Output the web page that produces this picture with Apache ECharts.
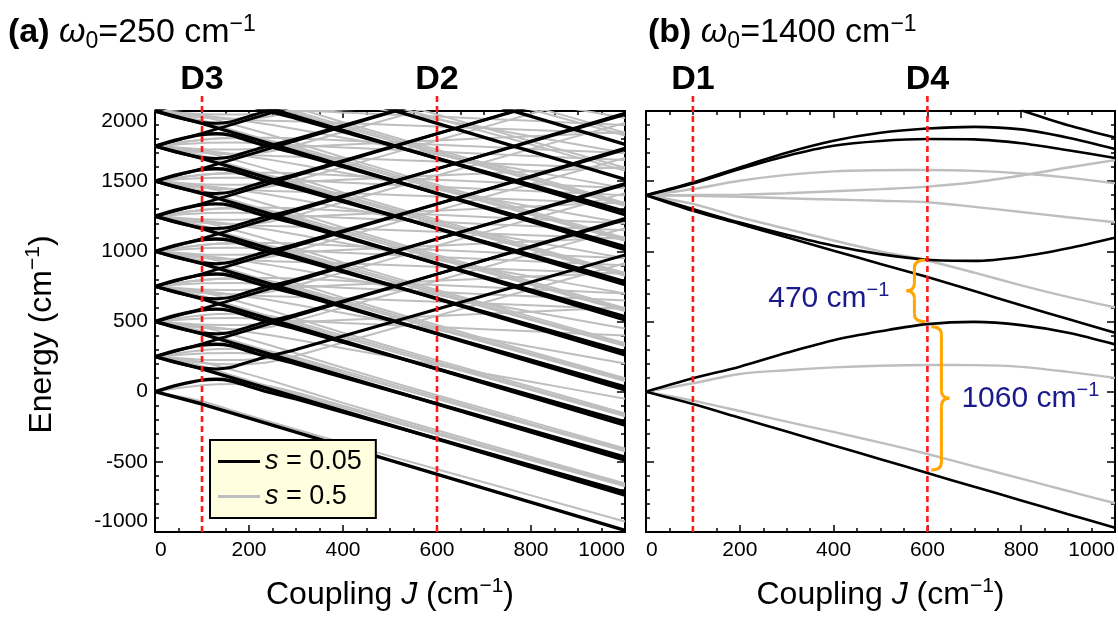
<!DOCTYPE html>
<html>
<head>
<meta charset="utf-8">
<script src="https://cdn.jsdelivr.net/npm/echarts@6/dist/echarts.min.js"></script>
<style>
html, body { margin: 0; padding: 0; background: #fff; }
#main { width: 1118px; height: 617px; }
</style>
</head>
<body>
<div id="main"></div>
<script>
var chart = echarts.init(document.getElementById('main'));

// ---------- panel (a): omega0 = 250 cm-1 ----------
var jStraight = [0, 100, 1000];
var jArc = [0, 50, 100, 130, 160, 200, 230, 300, 1000];
var jGray = [0, 100, 170, 250, 400, 600, 800, 1000];

// s = 0.05 : straight lines leaving each level downwards
var aDown = [
    [0, -88, -988], [250, 162, -738], [500, 412, -488], [750, 662, -238],
    [1000, 912, 12], [1250, 1162, 262], [1500, 1412, 512], [1750, 1662, 762],
    [2000, 1912, 1012], [2250, 2162, 1262], [2500, 2412, 1512], [2750, 2662, 1762]
];
// straight lines leaving upwards
var aUp = [
    [250, 340, 1235], [500, 590, 1485], [750, 840, 1735], [1000, 1090, 1985],
    [1250, 1340, 2235], [1500, 1590, 2485], [1750, 1840, 2735]
];
// upper arc of each lens (bends down after the avoided crossing)
var aArcTop = [
    [0, 48, 82, 88, 78, 38, 8, -52, -716],
    [250, 298, 332, 338, 328, 288, 258, 198, -466],
    [500, 548, 582, 588, 578, 538, 508, 448, -216],
    [750, 798, 832, 838, 828, 788, 758, 698, 34],
    [1000, 1048, 1082, 1088, 1078, 1038, 1008, 948, 284],
    [1250, 1298, 1332, 1338, 1328, 1288, 1258, 1198, 534],
    [1500, 1548, 1582, 1588, 1578, 1538, 1508, 1448, 784],
    [1750, 1798, 1832, 1838, 1828, 1788, 1758, 1698, 1034],
    [2000, 2048, 2082, 2088, 2078, 2038, 2008, 1948, 1284]
];
// lower arc of each lens (bends up)
var aArcBot = [
    [250, 202, 168, 162, 172, 212, 242, 300, 975],
    [500, 452, 418, 412, 422, 462, 492, 550, 1225],
    [750, 702, 668, 662, 672, 712, 742, 800, 1475],
    [1000, 952, 918, 912, 922, 962, 992, 1050, 1725],
    [1250, 1202, 1168, 1162, 1172, 1212, 1242, 1300, 1975],
    [1500, 1452, 1418, 1412, 1422, 1462, 1492, 1550, 2225],
    [1750, 1702, 1668, 1662, 1672, 1712, 1742, 1800, 2475],
    [2000, 1952, 1918, 1912, 1922, 1962, 1992, 2050, 2725]
];

// s = 0.5 (grey), sampled at jGray
var aGrayDown = [
    [0, -68, -140, -220, -365, -553, -739, -925],
    [250, 182, 110, 30, -115, -303, -489, -675],
    [500, 432, 360, 280, 135, -53, -239, -425],
    [750, 682, 610, 530, 385, 197, 11, -175],
    [1000, 932, 860, 780, 635, 447, 261, 75],
    [1250, 1182, 1110, 1030, 885, 697, 511, 325],
    [1500, 1432, 1360, 1280, 1135, 947, 761, 575],
    [1750, 1682, 1610, 1530, 1385, 1197, 1011, 825],
    [2000, 1932, 1860, 1780, 1635, 1447, 1261, 1075],
    [2250, 2182, 2110, 2030, 1885, 1697, 1511, 1325],
    [2500, 2432, 2360, 2280, 2135, 1947, 1761, 1575],
    [2750, 2682, 2610, 2530, 2385, 2197, 2011, 1825]
];
var aGrayDown2 = [
    [250, 210, 150, 75, -80, -275, -465, -655],
    [500, 460, 400, 325, 170, -25, -215, -405],
    [750, 710, 650, 575, 420, 225, 35, -155],
    [1000, 960, 900, 825, 670, 475, 285, 95],
    [1250, 1210, 1150, 1075, 920, 725, 535, 345],
    [1500, 1460, 1400, 1325, 1170, 975, 785, 595],
    [1750, 1710, 1650, 1575, 1420, 1225, 1035, 845],
    [2000, 1960, 1900, 1825, 1670, 1475, 1285, 1095],
    [2250, 2210, 2150, 2075, 1920, 1725, 1535, 1345],
    [2500, 2460, 2400, 2325, 2170, 1975, 1785, 1595],
    [2750, 2710, 2650, 2575, 2420, 2225, 2035, 1845]
];
var aGrayMid = [
    [500, 470, 440, 400, 310, 190, 70, -50],
    [750, 720, 690, 650, 560, 440, 320, 200],
    [1000, 970, 940, 900, 810, 690, 570, 450],
    [1250, 1220, 1190, 1150, 1060, 940, 820, 700],
    [1500, 1470, 1440, 1400, 1310, 1190, 1070, 950],
    [1750, 1720, 1690, 1650, 1560, 1440, 1320, 1200],
    [2000, 1970, 1940, 1900, 1810, 1690, 1570, 1450],
    [2250, 2220, 2190, 2150, 2060, 1940, 1820, 1700],
    [2500, 2470, 2440, 2400, 2310, 2190, 2070, 1950]
];
var aGrayHump = [
    [0, 45, 55, 35, -100, -290, -480, -665],
    [250, 295, 305, 285, 150, -40, -230, -415],
    [500, 545, 555, 535, 400, 210, 20, -165],
    [750, 795, 805, 785, 650, 460, 270, 85],
    [1000, 1045, 1055, 1035, 900, 710, 520, 335],
    [1250, 1295, 1305, 1285, 1150, 960, 770, 585],
    [1500, 1545, 1555, 1535, 1400, 1210, 1020, 835],
    [1750, 1795, 1805, 1785, 1650, 1460, 1270, 1085],
    [2000, 2045, 2055, 2035, 1900, 1710, 1520, 1335]
];
var aGrayRise = [
    [250, 205, 195, 215, 350, 540, 730, 915],
    [500, 455, 445, 465, 600, 790, 980, 1165],
    [750, 705, 695, 715, 850, 1040, 1230, 1415],
    [1000, 955, 945, 965, 1100, 1290, 1480, 1665],
    [1250, 1205, 1195, 1215, 1350, 1540, 1730, 1915],
    [1500, 1455, 1445, 1465, 1600, 1790, 1980, 2165],
    [1750, 1705, 1695, 1715, 1850, 2040, 2230, 2415],
    [2000, 1955, 1945, 1965, 2100, 2290, 2480, 2665]
];
var aGrayFlat = [
    [250, 272, 275, 262],
    [250, 228, 225, 238],
    [500, 522, 525, 515, 490, 460, 430, 400],
    [500, 478, 475, 485, 510, 540, 570, 600],
    [750, 772, 775, 765, 740, 710, 680, 650],
    [750, 728, 725, 735, 760, 790, 820, 850],
    [750, 795, 810, 810, 790, 760, 730, 700],
    [750, 705, 690, 680, 665, 640, 615, 590],
    [1000, 1022, 1025, 1015, 990, 960, 930, 900],
    [1000, 978, 975, 985, 1010, 1040, 1070, 1100],
    [1000, 1045, 1060, 1060, 1040, 1010, 980, 950],
    [1000, 955, 940, 930, 915, 890, 865, 840],
    [1250, 1272, 1275, 1265, 1240, 1210, 1180, 1150],
    [1250, 1228, 1225, 1235, 1260, 1290, 1320, 1350],
    [1250, 1295, 1310, 1310, 1290, 1260, 1230, 1200],
    [1250, 1205, 1190, 1180, 1165, 1140, 1115, 1090],
    [1500, 1522, 1525, 1515, 1490, 1460, 1430, 1400],
    [1500, 1478, 1475, 1485, 1510, 1540, 1570, 1600],
    [1500, 1545, 1560, 1560, 1540, 1510, 1480, 1450],
    [1500, 1455, 1440, 1430, 1415, 1390, 1365, 1340],
    [1750, 1772, 1775, 1765, 1740, 1710, 1680, 1650],
    [1750, 1728, 1725, 1735, 1760, 1790, 1820, 1850],
    [1750, 1795, 1810, 1810, 1790, 1760, 1730, 1700],
    [1750, 1705, 1690, 1680, 1665, 1640, 1615, 1590],
    [2000, 2022, 2025, 2015, 1990, 1960, 1930, 1900],
    [2000, 1978, 1975, 1985, 2010, 2040, 2070, 2100],
    [2000, 1955, 1940, 1930, 1915, 1890, 1865, 1840]
];

// ---------- panel (b): omega0 = 1400 cm-1 ----------
var jB = [0, 100, 200, 300, 400, 500, 600, 700, 800, 900, 1000];
var bBlack = [
    [0, -88, -186, -284, -383, -481, -580, -678, -775, -873, -970],
    [0, 95, 178, 277, 367, 430, 481, 497, 474, 420, 337],
    [1400, 1289, 1195, 1100, 1005, 910, 817, 718, 615, 518, 419],
    [1400, 1301, 1205, 1118, 1040, 980, 940, 932, 962, 1022, 1097],
    [1400, 1490, 1598, 1703, 1788, 1845, 1875, 1887, 1869, 1810, 1729],
    [1400, 1484, 1587, 1680, 1752, 1786, 1800, 1798, 1770, 1720, 1665],
    [null, null, null, null, null, null, null, null, 2005, 1898, 1811]
];
var bGray = [
    [0, 60, 126, 153, 173, 185, 190, 189, 177, 141, 98],
    [0, -64, -138, -214, -287, -363, -444, -532, -620, -708, -795],
    [1400, 1338, 1243, 1160, 1077, 1000, 935, 848, 758, 675, 600],
    [1400, 1395, 1388, 1378, 1369, 1360, 1350, 1317, 1280, 1243, 1207],
    [1400, 1401, 1404, 1414, 1428, 1443, 1461, 1492, 1540, 1597, 1650],
    [1400, 1444, 1503, 1545, 1570, 1578, 1580, 1573, 1555, 1525, 1484]
];

// dashed markers and gap braces
var markersA = [{j: 100, label: 'D3'}, {j: 600, label: 'D2'}];
var markersB = [{j: 100, label: 'D1'}, {j: 600, label: 'D4'}];
var markerTop = 2128;
var braceJ = 600;
var braceSmall = [938, 499];
var braceLarge = [463, -558];

var BLACK = '#000000', GRAY = '#bebebe', RED = '#ff1a1a';
var FONT = 'Liberation Sans';

function pts(js, es) {
    var out = [];
    for (var i = 0; i < es.length; i++) {
        if (es[i] !== null) out.push([js[i], es[i]]);
    }
    return out;
}

var series = [];
function addLine(axis, js, es, name, color, width, smooth) {
    series.push({
        type: 'line', name: name, xAxisIndex: axis, yAxisIndex: axis,
        data: pts(js, es), symbol: 'none', showSymbol: false,
        smooth: smooth ? 0.3 : false,
        lineStyle: {color: color, width: width}, itemStyle: {color: color},
        silent: true, animation: false, clip: true, z: color === BLACK ? 3 : 2
    });
}

var S1 = 's=0.05', S2 = 's=0.5';

// panel (a) grey first, black on top
[aGrayDown, aGrayDown2, aGrayMid, aGrayHump, aGrayRise, aGrayFlat].forEach(function (fam) {
    fam.forEach(function (e) { addLine(0, jGray, e, S2, GRAY, 2, true); });
});
aDown.forEach(function (e) { addLine(0, jStraight, e, S1, BLACK, 3.4, false); });
aUp.forEach(function (e) { addLine(0, jStraight, e, S1, BLACK, 2.8, false); });
aArcTop.forEach(function (e) { addLine(0, jArc, e, S1, BLACK, 3.4, true); });
aArcBot.forEach(function (e) { addLine(0, jArc, e, S1, BLACK, 3, true); });

// panel (b)
bGray.forEach(function (e) { addLine(2, jB, e, S2, GRAY, 2.4, true); });
bBlack.forEach(function (e) { addLine(2, jB, e, S1, BLACK, 2.6, true); });

// dashed red markers on overlay grids (axes 4 and 5)
function addMarkers(axis, list) {
    list.forEach(function (m) {
        series.push({
            type: 'line', xAxisIndex: axis, yAxisIndex: axis, silent: true, animation: false,
            data: [[m.j, -1000], [m.j, markerTop]], symbol: 'none', z: 5,
            lineStyle: {color: RED, width: 2.6, type: [6, 4]}
        });
    });
}
addMarkers(4, markersA);
addMarkers(5, markersB);

var GRID_TOP = 111, GRID_H = 421, GRID_W = 470;
var LEFT_A = 155, LEFT_B = 646;

var nameStyle = {
    fontFamily: FONT, fontSize: 32, color: '#000',
    rich: {
        t: {fontFamily: FONT, fontSize: 32, color: '#000', lineHeight: 38},
        i: {fontFamily: FONT, fontSize: 32, color: '#000', fontStyle: 'italic', lineHeight: 38},
        p: {fontFamily: FONT, fontSize: 21, color: '#000', lineHeight: 21, verticalAlign: 'top'}
    }
};
function plain(v) { return '' + v; }

function xAx(gi, pos, labels, name) {
    return {
        type: 'value', gridIndex: gi, position: pos, min: 0, max: 1000, interval: 200,
        name: name || '', nameLocation: 'middle', nameGap: 44,
        nameTextStyle: nameStyle,
        axisLine: {show: true, onZero: false, lineStyle: {color: '#000', width: 2}},
        axisTick: {show: true, inside: true, length: 7, lineStyle: {color: '#000', width: 1.5}},
        minorTick: {show: true, splitNumber: 4, length: 4, lineStyle: {color: '#000', width: 1.5}},
        splitLine: {show: false}, minorSplitLine: {show: false},
        axisLabel: {show: labels, margin: 8, fontSize: 21, color: '#000', fontFamily: FONT,
            formatter: plain, alignMinLabel: 'left', alignMaxLabel: 'right'}
    };
}
function yAx(gi, pos, labels, name) {
    return {
        type: 'value', gridIndex: gi, position: pos, min: -1000, max: 2000, interval: 500,
        name: name || '', nameLocation: 'middle', nameGap: 94,
        nameTextStyle: echarts.util.extend({padding: [0, 26, 0, 0]}, nameStyle),
        axisLine: {show: true, onZero: false, lineStyle: {color: '#000', width: 2}},
        axisTick: {show: true, inside: true, length: 8, lineStyle: {color: '#000', width: 1.5}},
        minorTick: {show: true, splitNumber: 5, length: 4, lineStyle: {color: '#000', width: 1.5}},
        splitLine: {show: false}, minorSplitLine: {show: false},
        axisLabel: {show: labels, margin: 7, fontSize: 21, color: '#000', fontFamily: FONT,
            formatter: plain, verticalAlignMinLabel: 'bottom', verticalAlignMaxLabel: 'top'}
    };
}
function hiddenAx(gi, min, max) {
    return {type: 'value', gridIndex: gi, min: min, max: max, show: false,
        splitLine: {show: false}};
}

var xName = '{t|Coupling }{i|J}{t| (cm}{p|−1}{t|)}';
var yName = '{t|Energy (cm}{p|−1}{t|)}';

var option = {
    backgroundColor: '#fff',
    animation: false,
    grid: [
        {left: LEFT_A, top: GRID_TOP, width: GRID_W, height: GRID_H},
        {left: LEFT_B, top: GRID_TOP, width: GRID_W - 1, height: GRID_H},
        {left: LEFT_A, top: 54.87, width: GRID_W, height: 477.13},
        {left: LEFT_B, top: 54.87, width: GRID_W - 1, height: 477.13}
    ],
    xAxis: [
        xAx(0, 'bottom', true, xName), xAx(0, 'top', false),
        xAx(1, 'bottom', true, xName), xAx(1, 'top', false),
        hiddenAx(2, 0, 1000), hiddenAx(3, 0, 1000)
    ],
    yAxis: [
        yAx(0, 'left', true, yName), yAx(0, 'right', false),
        yAx(1, 'left', false), yAx(1, 'right', false),
        hiddenAx(2, -1000, 2400), hiddenAx(3, -1000, 2400)
    ],
    legend: {
        data: [S1, S2], orient: 'vertical', left: 210, top: 440,
        icon: 'rect', itemWidth: 42, itemHeight: 3, itemGap: 8, padding: [8, 14, 8, 8],
        backgroundColor: '#ffffe0', borderColor: '#000', borderWidth: 2,
        selectedMode: false,
        textStyle: {
            fontFamily: FONT, fontSize: 27, color: '#000',
            rich: {
                i: {fontFamily: FONT, fontSize: 27, fontStyle: 'italic', color: '#000'},
                t: {fontFamily: FONT, fontSize: 27, color: '#000'}
            }
        },
        formatter: function (n) {
            return n === S1 ? '{i|s}{t| = 0.05}' : '{i|s}{t| = 0.5}';
        }
    },
    series: series
};

chart.setOption(option);

// titles, marker labels, braces and gap labels
var titleRich = {
    b: {fontFamily: FONT, fontWeight: 'bold', fontSize: 34, lineHeight: 40, fill: '#000'},
    w: {fontFamily: FONT, fontStyle: 'italic', fontSize: 34, lineHeight: 40, fill: '#000'},
    t: {fontFamily: FONT, fontSize: 34, lineHeight: 40, fill: '#000'},
    s: {fontFamily: FONT, fontSize: 23, lineHeight: 23, verticalAlign: 'bottom', fill: '#000'},
    p: {fontFamily: FONT, fontSize: 23, lineHeight: 23, verticalAlign: 'top', fill: '#000'}
};
var noteRich = {
    t: {fontFamily: FONT, fontSize: 30, lineHeight: 36, fill: '#1a1a8c'},
    p: {fontFamily: FONT, fontSize: 20, lineHeight: 20, verticalAlign: 'top', fill: '#1a1a8c'}
};

var ORANGE = {stroke: '#ffa500', lineWidth: 3, fill: null};
function brace(xe, xb, xt, y1, y2) {
    var ym = (y1 + y2) / 2, r = 8;
    return [
        {type: 'bezierCurve', z: 10, shape: {x1: xe, y1: y1, cpx1: xb, cpy1: y1, x2: xb, y2: y1 + r}, style: ORANGE},
        {type: 'line', z: 10, shape: {x1: xb, y1: y1 + r, x2: xb, y2: ym - r}, style: ORANGE},
        {type: 'bezierCurve', z: 10, shape: {x1: xb, y1: ym - r, cpx1: xb, cpy1: ym, x2: xt, y2: ym}, style: ORANGE},
        {type: 'bezierCurve', z: 10, shape: {x1: xt, y1: ym, cpx1: xb, cpy1: ym, x2: xb, y2: ym + r}, style: ORANGE},
        {type: 'line', z: 10, shape: {x1: xb, y1: ym + r, x2: xb, y2: y2 - r}, style: ORANGE},
        {type: 'bezierCurve', z: 10, shape: {x1: xb, y1: y2 - r, cpx1: xb, cpy1: y2, x2: xe, y2: y2}, style: ORANGE}
    ];
}

var px = chart.convertToPixel({xAxisIndex: 2}, braceJ);
var s1 = chart.convertToPixel({yAxisIndex: 2}, braceSmall[0]);
var s2 = chart.convertToPixel({yAxisIndex: 2}, braceSmall[1]);
var l1 = chart.convertToPixel({yAxisIndex: 2}, braceLarge[0]);
var l2 = chart.convertToPixel({yAxisIndex: 2}, braceLarge[1]);
var labelY = chart.convertToPixel({yAxisIndex: 4}, markerTop) - 13;

var graphics = [
    {type: 'text', x: 8, y: 33, z: 10,
        style: {text: '{b|(a)}{t| }{w|ω}{s|0}{t|=250 cm}{p|−1}', rich: titleRich,
            verticalAlign: 'middle', align: 'left'}},
    {type: 'text', x: 648, y: 33, z: 10,
        style: {text: '{b|(b)}{t| }{w|ω}{s|0}{t|=1400 cm}{p|−1}', rich: titleRich,
            verticalAlign: 'middle', align: 'left'}},
    {type: 'text', z: 10, x: px - 38, y: (s1 + s2) / 2 + 8,
        style: {text: '{t|470 cm}{p|−1}', rich: noteRich, align: 'right', verticalAlign: 'middle'}},
    {type: 'text', z: 10, x: px + 34, y: (l1 + l2) / 2,
        style: {text: '{t|1060 cm}{p|−1}', rich: noteRich, align: 'left', verticalAlign: 'middle'}}
].concat(brace(px - 2, px - 13, px - 21, s1, s2), brace(px + 4, px + 14, px + 22, l1, l2));

[[4, markersA], [5, markersB]].forEach(function (pair) {
    pair[1].forEach(function (m) {
        graphics.push({
            type: 'text', z: 10, x: chart.convertToPixel({xAxisIndex: pair[0]}, m.j), y: labelY,
            style: {text: m.label, fill: '#000', font: 'bold 34px "Liberation Sans"',
                align: 'center', verticalAlign: 'middle'}
        });
    });
});

chart.setOption({graphic: graphics});
</script>
</body>
</html>
